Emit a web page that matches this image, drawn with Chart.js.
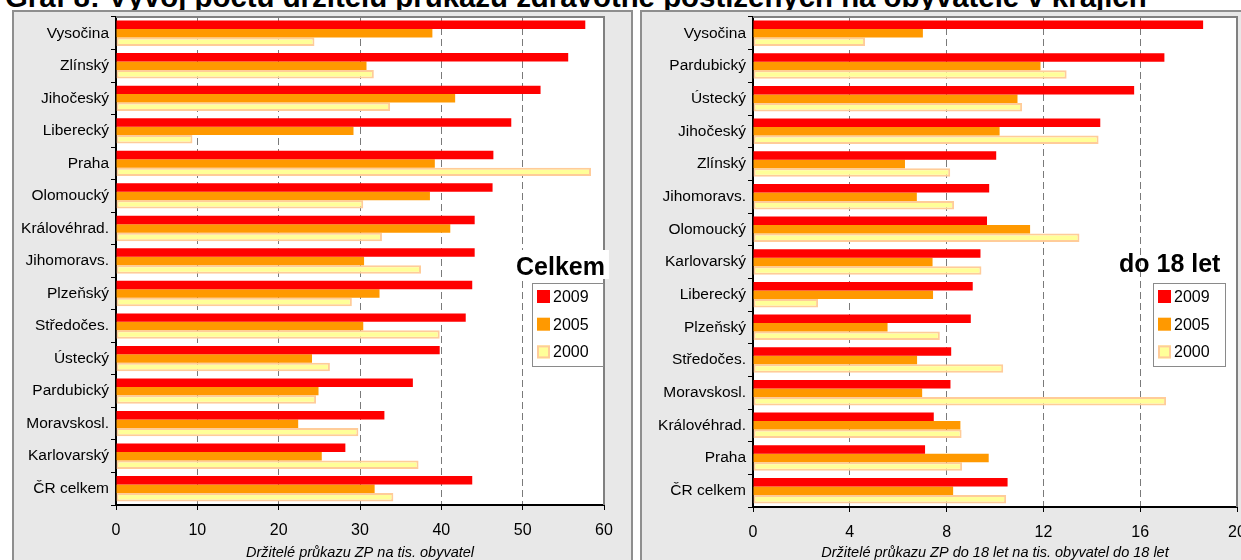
<!DOCTYPE html>
<html>
<head>
<meta charset="utf-8">
<script src="https://cdn.jsdelivr.net/npm/chart.js@4/dist/chart.umd.min.js"></script>
<style>
  html, body { margin: 0; padding: 0; background: #fff; }
  body { position: relative; width: 1241px; height: 560px; overflow: hidden;
         font-family: "Liberation Sans", Arial, sans-serif; }
  #title { position: absolute; left: 5px; top: -18px; white-space: nowrap; color: #000;
           font: bold 29.4px/29px "Liberation Sans", Arial, sans-serif; }
  .panel { position: absolute; top: 10px; height: 560px; background: #e8e8e8;
           border: 2px solid #8e8e8e; box-sizing: border-box; }
  #panelTotal { left: 12px; width: 621px; }
  #panelYouth { left: 640px; width: 640px; }
  canvas { position: absolute; left: 0; top: 0; }
</style>
</head>
<body>
<div id="title">Graf 8: Vývoj počtu držitelů průkazu zdravotně postižených na obyvatele v krajích</div>
<div class="panel" id="panelTotal"><canvas id="chartTotal" width="616" height="548"></canvas></div>
<div class="panel" id="panelYouth"><canvas id="chartYouth" width="620" height="548"></canvas></div>

<script>
// Series names (years)
const seriesYears = ['2009', '2005', '2000'];

// Holders per 1000 inhabitants, all ages
const totalRegions = ['Vysočina', 'Zlínský', 'Jihočeský', 'Liberecký', 'Praha', 'Olomoucký',
  'Královéhrad.', 'Jihomoravs.', 'Plzeňský', 'Středočes.', 'Ústecký', 'Pardubický',
  'Moravskosl.', 'Karlovarský', 'ČR celkem'];
const total2009 = [57.7, 55.6, 52.2, 48.6, 46.4, 46.3, 44.1, 44.1, 43.8, 43.0, 39.8, 36.5, 33.0, 28.2, 43.8];
const total2005 = [38.9, 30.8, 41.7, 29.2, 39.2, 38.6, 41.1, 30.5, 32.4, 30.4, 24.1, 24.9, 22.4, 25.3, 31.8];
const total2000 = [24.4, 31.7, 33.7, 9.4, 58.4, 30.4, 32.7, 37.5, 29.0, 39.8, 26.3, 24.6, 29.8, 37.2, 34.1];
const totalTicks = [0, 10, 20, 30, 40, 50, 60];

// Holders under 18 per 1000 inhabitants under 18
const youthRegions = ['Vysočina', 'Pardubický', 'Ústecký', 'Jihočeský', 'Zlínský', 'Jihomoravs.',
  'Olomoucký', 'Karlovarský', 'Liberecký', 'Plzeňský', 'Středočes.', 'Moravskosl.',
  'Královéhrad.', 'Praha', 'ČR celkem'];
const youth2009 = [18.6, 17.0, 15.75, 14.35, 10.05, 9.76, 9.67, 9.4, 9.08, 9.0, 8.19, 8.16, 7.47, 7.11, 10.52];
const youth2005 = [7.02, 11.88, 10.93, 10.19, 6.28, 6.77, 11.45, 7.42, 7.44, 5.56, 6.78, 6.99, 8.57, 9.74, 8.27];
const youth2000 = [4.63, 12.96, 11.12, 14.28, 8.15, 8.31, 13.49, 9.44, 2.69, 7.72, 10.34, 17.07, 8.62, 8.64, 10.46];
const youthTicks = [0, 4, 8, 12, 16, 20];

const FONT = '"Liberation Sans", Arial, sans-serif';
const RED = '#ff0000', ORANGE = '#ff9900', PALE = '#ffff99', PEACH = '#ffcc99';

// White plot area, grey frame, panel caption and legend box
const panelDecor = {
  id: 'panelDecor',
  beforeDraw(chart) {
    const a = chart.chartArea, c = chart.ctx;
    c.save();
    c.fillStyle = '#fff';
    c.fillRect(a.left, a.top, a.right - a.left, a.bottom - a.top);
    c.restore();
  },
  afterDraw(chart, args, o) {
    const a = chart.chartArea, c = chart.ctx;
    c.save();
    // top and right frame
    c.strokeStyle = '#808080';
    c.lineWidth = 2;
    c.beginPath();
    c.moveTo(a.left, a.top);
    c.lineTo(a.right, a.top);
    c.lineTo(a.right, a.bottom);
    c.stroke();

    // caption
    c.font = 'bold 25px ' + FONT;
    c.textBaseline = 'alphabetic';
    c.textAlign = 'left';
    const cx = a.right + o.captionDx, cy = a.top + o.captionDy;
    if (o.captionBg) {
      const w = c.measureText(o.caption).width;
      c.fillStyle = '#fff';
      c.fillRect(cx - 2, cy - 25, w + 6, 29);
    }
    c.fillStyle = '#000';
    c.fillText(o.caption, cx, cy);

    // legend box
    const lx = a.right + o.legendDx, ly = a.top + o.legendDy;
    c.fillStyle = '#fff';
    c.fillRect(lx, ly, o.legendW, o.legendH);
    c.strokeStyle = '#8a8a8a';
    c.lineWidth = 1;
    c.strokeRect(lx + 0.5, ly + 0.5, o.legendW - 1, o.legendH - 1);
    c.font = '16px ' + FONT;
    c.textBaseline = 'middle';
    chart.data.datasets.forEach((ds, i) => {
      const ry = ly + 13.5 + i * 27.7;
      const sx = lx + 5;
      c.fillStyle = ds.backgroundColor;
      c.fillRect(sx, ry - 6.5, 13, 13);
      if (ds.borderWidth) {
        c.strokeStyle = ds.borderColor;
        c.lineWidth = 2;
        c.strokeRect(sx + 1, ry - 5.5, 11, 11);
      }
      c.fillStyle = '#000';
      c.fillText(ds.label, sx + 16, ry + 1);
    });
    c.restore();
  }
};

function buildChart(canvas, s) {
  return new Chart(canvas, {
    type: 'bar',
    data: {
      labels: s.regions,
      datasets: [
        { label: seriesYears[0], data: s.v2009, backgroundColor: RED, borderWidth: 0 },
        { label: seriesYears[1], data: s.v2005, backgroundColor: ORANGE, borderWidth: 0 },
        { label: seriesYears[2], data: s.v2000, backgroundColor: PALE, borderColor: PEACH,
          borderWidth: 2, borderSkipped: false }
      ]
    },
    options: {
      indexAxis: 'y',
      responsive: false,
      animation: false,
      devicePixelRatio: 1,
      layout: { padding: { left: 0, top: 5, right: s.padRight, bottom: 0 } },
      datasets: { bar: { categoryPercentage: 0.78, barPercentage: 1 } },
      plugins: {
        legend: { display: false },
        tooltip: { enabled: false },
        panelDecor: s.decor
      },
      scales: {
        x: {
          min: s.ticks[0],
          max: s.ticks[s.ticks.length - 1],
          afterBuildTicks(scale) { scale.ticks = s.ticks.map(v => ({ value: v })); },
          ticks: { color: '#000', font: { family: FONT, size: 16 }, padding: 11, maxRotation: 0 },
          grid: {
            color: ctx => (ctx.tick && ctx.tick.value > s.ticks[0] &&
                           ctx.tick.value < s.ticks[s.ticks.length - 1]) ? '#7a7a7a' : 'rgba(0,0,0,0)',
            lineWidth: 1,
            tickColor: '#000',
            tickLength: 5,
            tickBorderDash: []
          },
          border: { color: '#000', width: 2, dash: [7, 4] },
          title: {
            display: true, text: s.xTitle, color: '#000',
            font: { family: FONT, size: 14.5, style: 'italic' },
            padding: { top: 0, bottom: -2 }
          },
          afterFit(scale) { scale.height = s.xAxisHeight; }
        },
        y: {
          ticks: { color: '#000', font: { family: FONT, size: 15.5 }, padding: 2, autoSkip: false },
          grid: { offset: true, drawOnChartArea: false, tickColor: '#000', tickLength: 5 },
          border: { color: '#000', width: 2 },
          afterFit(scale) {
            scale.width = s.yAxisWidth;
            scale.paddingTop = 0;
            scale.paddingBottom = 0;
          }
        }
      }
    },
    plugins: [panelDecor]
  });
}

buildChart(document.getElementById('chartTotal'), {
  regions: totalRegions, v2009: total2009, v2005: total2005, v2000: total2000,
  ticks: totalTicks,
  xTitle: 'Držitelé průkazu ZP na tis. obyvatel',
  yAxisWidth: 102, xAxisHeight: 55, padRight: 26,
  decor: { caption: 'Celkem', captionBg: true, captionDx: -88, captionDy: 258,
           legendDx: -72, legendDy: 266, legendW: 72, legendH: 84 }
});

buildChart(document.getElementById('chartYouth'), {
  regions: youthRegions, v2009: youth2009, v2005: youth2005, v2000: youth2000,
  ticks: youthTicks,
  xTitle: 'Držitelé průkazu ZP do 18 let na tis. obyvatel do 18 let',
  yAxisWidth: 111, xAxisHeight: 53, padRight: 25,
  decor: { caption: 'do 18 let', captionBg: false, captionDx: -118, captionDy: 255,
           legendDx: -84, legendDy: 266, legendW: 73, legendH: 84 }
});
</script>
</body>
</html>
